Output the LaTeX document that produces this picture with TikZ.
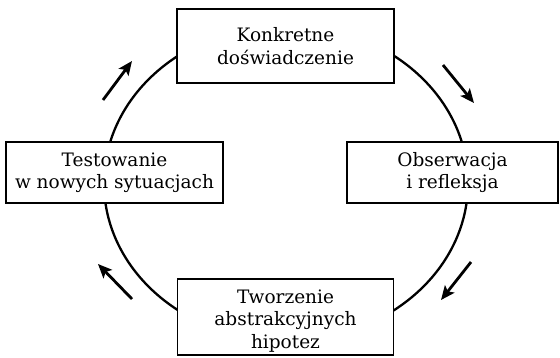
\documentclass[tikz,border=0pt]{standalone}
\usepackage{fontspec}
\setmainfont{DejaVu Serif}
\usetikzlibrary{arrows.meta}

\tikzset{
  stagebox/.style={draw=black, line width=1.5pt, fill=white, inner sep=0pt,
    align=center, font=\fontsize{18.5}{22.5}\selectfont},
  cycleline/.style={line width=2.3pt},
  flowarrow/.style={line width=2.8pt, -{Stealth[length=14pt,width=12pt,inset=3pt]}}
}

\begin{document}
\begin{tikzpicture}[x=1pt, y=-1pt]
  \useasboundingbox (0,0) rectangle (560,357);

  % the learning cycle
  \draw[cycleline] (286,183) ellipse [x radius=182, y radius=158];

  % the four stages
  \node[stagebox, minimum width=217pt, minimum height=74pt] (konkret) at (285.5,46)
    {Konkretne\\doświadczenie};
  \node[stagebox, minimum width=211pt, minimum height=61pt] (obserw) at (452.5,172.5)
    {Obserwacja\\i refleksja};
  \node[stagebox, minimum width=216pt, minimum height=76pt] (tworz) at (285.5,317)
    {\rule{0pt}{21pt}Tworzenie\\abstrakcyjnych\\hipotez};
  \node[stagebox, minimum width=217pt, minimum height=61pt] (test) at (114.5,172.5)
    {Testowanie\\w nowych sytuacjach};

  % direction of the cycle
  \coordinate (a1s) at (103,100); \coordinate (a1e) at (132,61);
  \coordinate (a2s) at (443,65);  \coordinate (a2e) at (474,103);
  \coordinate (a3s) at (471,262); \coordinate (a3e) at (441,300);
  \coordinate (a4s) at (132,299); \coordinate (a4e) at (98,264);
  \draw[flowarrow] (a1s) -- (a1e);
  \draw[flowarrow] (a2s) -- (a2e);
  \draw[flowarrow] (a3s) -- (a3e);
  \draw[flowarrow] (a4s) -- (a4e);
\end{tikzpicture}
\end{document}
